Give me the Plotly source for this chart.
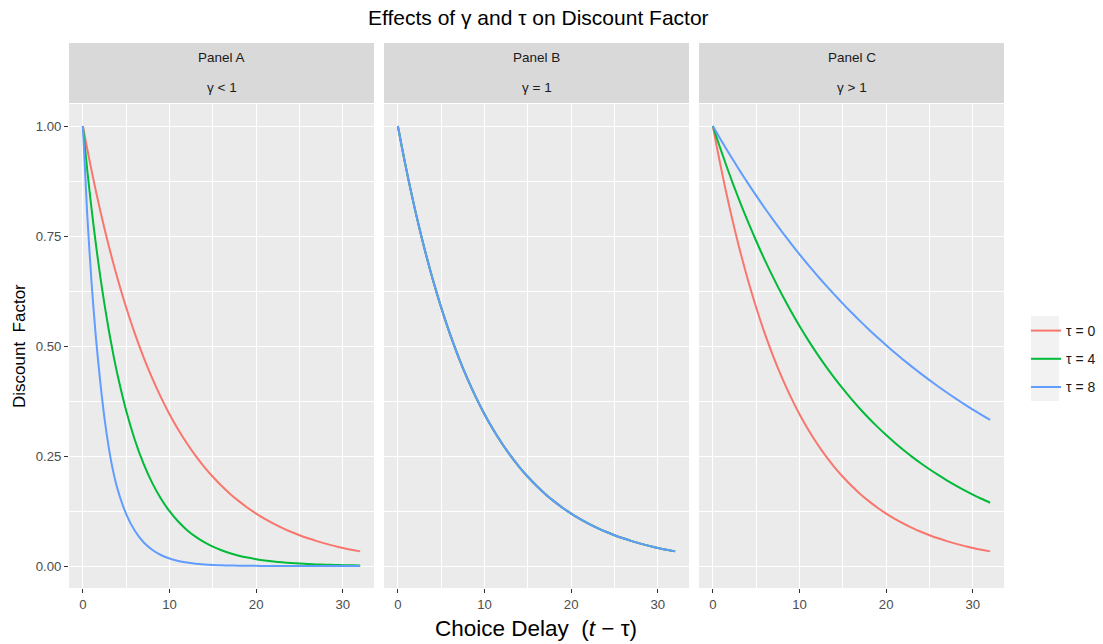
import plotly.graph_objects as go

# ---------------- data ----------------
delay = [0, 0.5, 1, 1.5, 2, 2.5, 3, 3.5, 4, 5, 6, 7, 8, 9, 10, 11, 12, 13, 14, 15, 16,
         17, 18, 19, 20, 21, 22, 23, 24, 25, 26, 27, 28, 29, 30, 31, 32]

# Panel A (gamma < 1)
a_tau0 = [1.0, 0.9482, 0.8991, 0.8525, 0.8083, 0.7665, 0.7268, 0.6891, 0.6534, 0.5875, 0.5282,
          0.4749, 0.4270, 0.3839, 0.3451, 0.3103, 0.2790, 0.2508, 0.2255, 0.2028, 0.1823, 0.1639,
          0.1474, 0.1325, 0.1191, 0.1071, 0.0963, 0.0866, 0.0778, 0.0700, 0.0629, 0.0566, 0.0509,
          0.0457, 0.0411, 0.0370, 0.0332]
a_tau4 = [1.0, 0.9010, 0.8119, 0.7315, 0.6592, 0.5939, 0.5352, 0.4822, 0.4346, 0.3528, 0.2865,
          0.2326, 0.1889, 0.1534, 0.1245, 0.1011, 0.0821, 0.0667, 0.0541, 0.0439, 0.0357, 0.0290,
          0.0235, 0.0191, 0.0155, 0.0126, 0.0102, 0.0083, 0.0067, 0.0055, 0.0044, 0.0036, 0.0029,
          0.0024, 0.0019, 0.0016, 0.0013]
a_tau8 = [1.0, 0.800, 0.645, 0.520, 0.420, 0.335, 0.268, 0.215, 0.175, 0.118, 0.080,
          0.054, 0.037, 0.025, 0.017, 0.0115, 0.0078, 0.0053, 0.0036, 0.0024, 0.0016, 0.0011,
          0.0007, 0.0005, 0.0003, 0.0002, 0.0001, 0.0001, 0.0001, 0.0, 0.0, 0.0, 0.0,
          0.0, 0.0, 0.0, 0.0]

# Panel B (gamma = 1): every tau gives the same curve
b_tau0 = list(a_tau0)
b_tau4 = list(a_tau0)
b_tau8 = list(a_tau0)

# Panel C (gamma > 1)
c_tau0 = list(a_tau0)
c_tau4 = [1.0, 0.9701, 0.9412, 0.9131, 0.8858, 0.8594, 0.8338, 0.8089, 0.7847, 0.7386, 0.6951,
          0.6543, 0.6158, 0.5796, 0.5455, 0.5134, 0.4832, 0.4548, 0.4281, 0.4029, 0.3792, 0.3569,
          0.3359, 0.3162, 0.2976, 0.2801, 0.2636, 0.2481, 0.2335, 0.2198, 0.2069, 0.1947, 0.1833,
          0.1725, 0.1623, 0.1528, 0.1438]
c_tau8 = [1.0, 0.9829, 0.9661, 0.9496, 0.9334, 0.9174, 0.9017, 0.8863, 0.8712, 0.8417, 0.8131,
          0.7856, 0.7590, 0.7333, 0.7084, 0.6844, 0.6612, 0.6388, 0.6172, 0.5963, 0.5761, 0.5565,
          0.5377, 0.5195, 0.5019, 0.4849, 0.4684, 0.4526, 0.4372, 0.4224, 0.4081, 0.3943, 0.3809,
          0.3680, 0.3556, 0.3435, 0.3319]

panel_titles = ["Panel A", "Panel B", "Panel C"]
panel_gammas = ["γ &lt; 1", "γ = 1", "γ &gt; 1"]
legend_labels = ["τ = 0", "τ = 4", "τ = 8"]
x_ticks = [0, 10, 20, 30]
y_ticks = [0.0, 0.25, 0.5, 0.75, 1.0]
y_tick_labels = ["0.00", "0.25", "0.50", "0.75", "1.00"]

# ---------------- styling ----------------
colors = ["#F8766D", "#00BA38", "#619CFF"]
FONT = "Liberation Sans, Arial, Helvetica, sans-serif"
W, H = 1103, 644
ML, MR, MT, MB = 69, 99, 43, 56
PW = W - ML - MR
PH = H - MT - MB


def px_x(p):
    return (p - ML) / PW


def px_y(p):
    return (H - MB - p) / PH


domains = [[px_x(69), px_x(374)], [px_x(384), px_x(689)], [px_x(699), px_x(1004)]]
ytop = px_y(104)

panels = [
    [a_tau0, a_tau4, a_tau8],
    [b_tau0, b_tau4, b_tau8],
    [c_tau0, c_tau4, c_tau8],
]

fig = go.Figure()
for pi, series in enumerate(panels):
    xa = "x" if pi == 0 else f"x{pi + 1}"
    ya = "y" if pi == 0 else f"y{pi + 1}"
    for si, ys in enumerate(series):
        fig.add_trace(go.Scatter(
            x=delay, y=ys, mode="lines",
            line=dict(color=colors[si], width=2, shape="spline", smoothing=0.7),
            name=legend_labels[si], legendgroup=legend_labels[si],
            showlegend=(pi == 0), xaxis=xa, yaxis=ya,
        ))

axis_common = dict(
    showline=False, zeroline=False,
    gridcolor="white", gridwidth=1.1,
    ticks="outside", ticklen=4, tickwidth=1, tickcolor="#333333",
    tickfont=dict(family=FONT, size=13.2, color="#4d4d4d"),
)
minor_x = dict(dtick=5, showgrid=True, gridcolor="white", gridwidth=0.5, ticks="")
minor_y = dict(dtick=0.125, showgrid=True, gridcolor="white", gridwidth=0.5, ticks="")

layout = dict(
    width=W, height=H,
    margin=dict(l=ML, r=MR, t=MT, b=MB, autoexpand=False),
    paper_bgcolor="white", plot_bgcolor="#ebebeb",
    font=dict(family=FONT, color="#1a1a1a"),
    showlegend=True,
    legend=dict(
        x=px_x(1026), y=px_y(359), xanchor="left", yanchor="middle",
        bgcolor="rgba(0,0,0,0)", font=dict(family=FONT, size=14, color="#1a1a1a"),
        tracegroupgap=7, itemwidth=30, traceorder="grouped",
    ),
)
for pi in range(3):
    xk = "xaxis" if pi == 0 else f"xaxis{pi + 1}"
    yk = "yaxis" if pi == 0 else f"yaxis{pi + 1}"
    layout[xk] = dict(axis_common, domain=domains[pi], range=[-1.6, 33.6],
                      tickvals=x_ticks, minor=minor_x, anchor="y" if pi == 0 else f"y{pi + 1}")
    layout[yk] = dict(axis_common, domain=[0, ytop], range=[-0.05, 1.05],
                      tickvals=y_ticks, ticktext=y_tick_labels, minor=minor_y,
                      anchor="x" if pi == 0 else f"x{pi + 1}",
                      showticklabels=(pi == 0), ticks="outside" if pi == 0 else "")
fig.update_layout(**layout)

shapes = []
annotations = []
for pi in range(3):
    shapes.append(dict(type="rect", xref="paper", yref="paper",
                       x0=domains[pi][0], x1=domains[pi][1], y0=px_y(103), y1=1.0,
                       fillcolor="#d9d9d9", line=dict(width=0), layer="below"))
    cx = (domains[pi][0] + domains[pi][1]) / 2
    annotations.append(dict(text=panel_titles[pi], x=cx, y=px_y(58), xref="paper", yref="paper",
                            showarrow=False, xanchor="center", yanchor="middle",
                            font=dict(family=FONT, size=13.5, color="#1a1a1a")))
    annotations.append(dict(text=panel_gammas[pi], x=cx, y=px_y(87), xref="paper", yref="paper",
                            showarrow=False, xanchor="center", yanchor="middle",
                            font=dict(family=FONT, size=13.5, color="#1a1a1a")))

# legend key background
shapes.append(dict(type="rect", xref="paper", yref="paper",
                   x0=px_x(1031), x1=px_x(1059), y0=px_y(401), y1=px_y(316),
                   fillcolor="#f2f2f2", line=dict(width=0), layer="below"))

# title and axis titles
annotations.append(dict(text="Effects of γ and τ on Discount Factor", x=px_x(538), y=px_y(17),
                        xref="paper", yref="paper", showarrow=False, xanchor="center", yanchor="middle",
                        font=dict(family=FONT, size=21, color="#000000")))
annotations.append(dict(text="Choice Delay  (<i>t</i> − τ)", x=px_x(536), y=px_y(628),
                        xref="paper", yref="paper", showarrow=False, xanchor="center", yanchor="middle",
                        font=dict(family=FONT, size=22.5, color="#000000")))
annotations.append(dict(text="Discount  Factor", x=px_x(19), y=px_y(346), textangle=-90,
                        xref="paper", yref="paper", showarrow=False, xanchor="center", yanchor="middle",
                        font=dict(family=FONT, size=17, color="#000000")))
fig.update_layout(shapes=shapes, annotations=annotations)

fig.write_html("out.html")
